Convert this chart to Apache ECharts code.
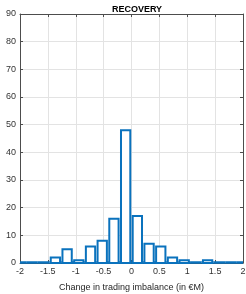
<!DOCTYPE html>
<html><head><meta charset="utf-8">
<script src="https://cdn.jsdelivr.net/npm/echarts@6/dist/echarts.min.js"></script>
<style>html,body{margin:0;padding:0;background:#fff}#c{width:246px;height:294px}</style>
</head><body><div id="c"></div>
<script>
var binWidth = 0.21;
var binStart = -2.1;
var counts = [0,0,0,2,5,1,6,8,16,48,17,7,6,2,1,0,1,0,0,0];
var xTicks = [-2,-1.5,-1,-0.5,0,0.5,1,1.5,2];
var yTicks = [0,10,20,30,40,50,60,70,80,90];
var title = 'RECOVERY';
var xLabel = 'Change in trading imbalance (in €M)';
var yLabel = 'Count';

var data = counts.map(function(c,i){
  var s = +(binStart + i*binWidth).toFixed(4);
  return [s, +(s+binWidth).toFixed(4), c];
});
var font = '"Liberation Sans Narrow", "Liberation Sans", sans-serif';
var blue = '#0a72bd';
var axisCol = '#4d4d4d';
var chart = echarts.init(document.getElementById('c'), null, {renderer:'canvas'});
function xAx(pos, show){
  return {type:'value', position:pos, min:-2, max:2, interval:0.5,
    axisLine:{show:true, onZero:false, lineStyle:{color:axisCol, width:1}},
    axisTick:{show:true, inside:true, length:3, lineStyle:{color:axisCol}},
    axisLabel:{show:show, color:'#333', fontFamily:font, fontSize:9, margin:4,
      formatter:function(v){return xTicks.indexOf(v)>=0 ? String(v) : '';}},
    splitLine:{show:show, lineStyle:{color:'#e3e3e3', width:1}}};
}
function yAx(pos, show){
  return {type:'value', position:pos, min:0, max:90, interval:10,
    axisLine:{show:true, onZero:false, lineStyle:{color:axisCol, width:1}},
    axisTick:{show:true, inside:true, length:3, lineStyle:{color:axisCol}},
    axisLabel:{show:show, color:'#333', fontFamily:font, fontSize:9, margin:4,
      formatter:function(v){return yTicks.indexOf(v)>=0 ? String(v) : '';}},
    splitLine:{show:show, lineStyle:{color:'#e3e3e3', width:1}}};
}
chart.setOption({
  animation:false,
  title:{text:title, left:132, top:0, textAlign:'center',
    textStyle:{fontFamily:font, fontSize:9, fontWeight:'bold', color:'#000'}},
  grid:{left:20, right:3, top:14, bottom:31, containLabel:false, outerBoundsMode:'none'},
  xAxis:[Object.assign(xAx('bottom', true), {name:xLabel, nameLocation:'middle', nameGap:20,
      nameTextStyle:{fontFamily:font, fontSize:9, color:'#262626'}}), xAx('top', false)],
  yAxis:[Object.assign(yAx('left', true), {name:yLabel, nameLocation:'middle', nameGap:14,
      nameTextStyle:{fontFamily:font, fontSize:9, color:'#262626'}}), yAx('right', false)],
  series:[{
    type:'custom', xAxisIndex:0, yAxisIndex:0, clip:false,
    data:data,
    encode:{x:[0,1], y:2},
    renderItem:function(params, api){
      var p0 = api.coord([api.value(0), api.value(2)]);
      var p1 = api.coord([api.value(1), 0]);
      var cs = params.coordSys;
      var xa = Math.max(p0[0], cs.x), xb = Math.min(p1[0], cs.x + cs.width);
      if (xb <= xa) return;
      var children = [{type:'line', shape:{x1:xa, y1:p1[1]-0.5, x2:xb, y2:p1[1]-0.5},
        style:{stroke:blue, lineWidth:2.5}}];
      if (api.value(2) > 0) {
        children.push({type:'rect', shape:{x:p0[0]+1.2, y:p0[1], width:p1[0]-p0[0]-2.4, height:p1[1]-p0[1]},
          style:{fill:'#fff', stroke:blue, lineWidth:2}});
      }
      return {type:'group', children:children};
    },
    z:3
  }]
});
</script></body></html>
